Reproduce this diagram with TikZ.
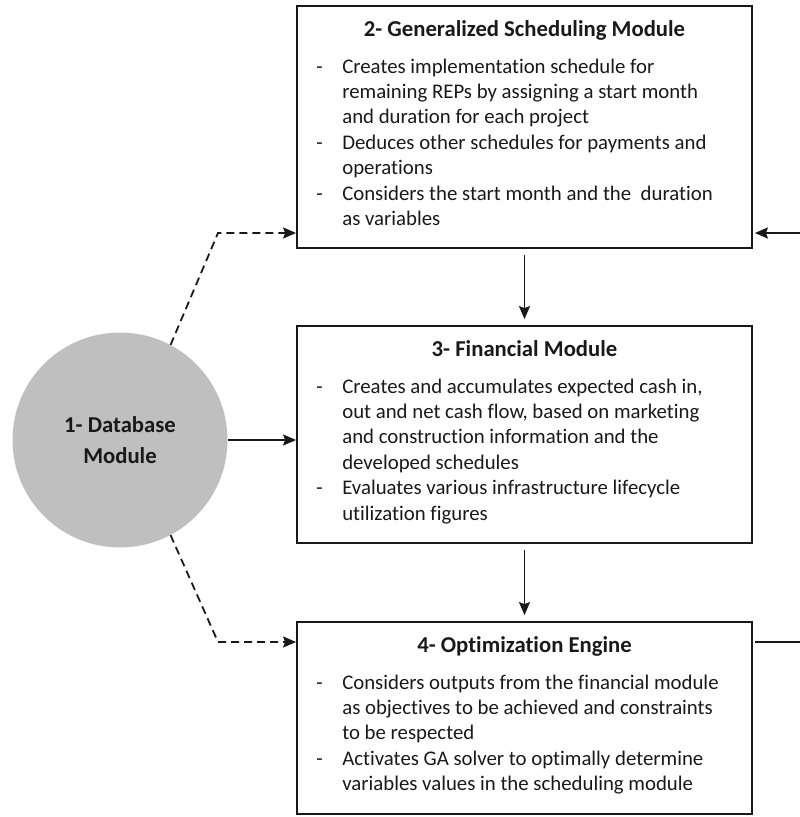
\documentclass[tikz,border=0pt]{standalone}
\usepackage{fontspec}
\setmainfont{Carlito}[Ligatures=NoCommon]
\usepackage{tikz}
\usetikzlibrary{arrows.meta,positioning,calc}
\definecolor{dbgray}{RGB}{191,191,191}
\definecolor{inkdark}{RGB}{25,25,25}

\tikzset{
  modbox/.style={draw=inkdark,line width=1.8pt,minimum width=455pt,inner sep=0pt},
  ttl/.style={font=\bfseries\fontsize{22.7}{27}\selectfont,text=inkdark,anchor=base,inner sep=0pt},
  body/.style={font=\fontsize{20.8}{25.4}\selectfont,text=inkdark,anchor=base west,inner sep=0pt},
  flow/.style={line width=1.8pt,draw=inkdark,-{Stealth[length=13pt,width=11pt,inset=2pt]}},
  dflow/.style={flow,dash pattern=on 8pt off 5pt},
}

\begin{document}
\begin{tikzpicture}[x=1pt,y=-1pt]
  \useasboundingbox (0,0) rectangle (800,817);
  % database module (grey disc)
  \node[circle,fill=dbgray,minimum size=215pt,inner sep=0pt,align=center,
        font=\bfseries\fontsize{22.7}{31}\selectfont,text=inkdark] (db) at (120,440)
        {1- Database\\Module};
  % the three module boxes
  \node[modbox,minimum height=242pt] (sched) at (524.5,127) {};
  \node[modbox,minimum height=217pt] (fin) at (524.5,434.5) {};
  \node[modbox,minimum height=192pt] (opt) at (524.5,718) {};
  % titles
  \node[ttl] (schedttl) at ([yshift=-31pt]sched.north) {2- Generalized Scheduling Module};
  \node[ttl] (finttl) at ([yshift=-31pt]fin.north) {3- Financial Module};
  \node[ttl] (optttl) at ([yshift=-31pt]opt.north) {4- Optimization Engine};
  % bullet lists
  \node[body] (schedtxt) at ([xshift=20pt,yshift=-68pt]sched.north west) {%
    \begin{tabular}[t]{@{}p{26pt}@{}l@{}}
    - & Creates implementation schedule for\\
      & remaining REPs by assigning a start month\\
      & and duration for each project\\
    - & Deduces other schedules for payments and\\
      & operations\\
    - & Considers the start month and the\ \ duration\\
      & as variables
    \end{tabular}};
  \node[body] (fintxt) at ([xshift=20pt,yshift=-68pt]fin.north west) {%
    \begin{tabular}[t]{@{}p{26pt}@{}l@{}}
    - & Creates and accumulates expected cash in,\\
      & out and net cash flow, based on marketing\\
      & and construction information and the\\
      & developed schedules\\
    - & Evaluates various infrastructure lifecycle\\
      & utilization figures
    \end{tabular}};
  \node[body] (opttxt) at ([xshift=20pt,yshift=-68pt]opt.north west) {%
    \begin{tabular}[t]{@{}p{26pt}@{}l@{}}
    - & Considers outputs from the financial module\\
      & as objectives to be achieved and constraints\\
      & to be respected\\
    - & Activates GA solver to optimally determine\\
      & variables values in the scheduling module
    \end{tabular}};
  % bends of the dashed links and the loop ends at the right edge
  \coordinate (kt) at (218,233);
  \coordinate (kb) at (218,642);
  \coordinate (fbin) at (800,233);
  \coordinate (fbout) at (800,642);
  % connectors
  \draw[dflow] (db.62) -- (kt) -- (kt -| sched.west);
  \draw[dflow] (db.-62) -- (kb) -- (kb -| opt.west);
  \draw[flow] (db.east) -- (db.east -| fin.west);
  \draw[flow,shorten <=6pt,shorten >=6pt] (sched.south) -- (fin.north);
  \draw[flow,shorten <=6pt,shorten >=6pt] (fin.south) -- (opt.north);
  \draw[line width=1.8pt,draw=inkdark,shorten <=2pt] (fbout -| opt.east) -- (fbout);
  \draw[flow,shorten >=2pt] (fbin) -- (fbin -| sched.east);
\end{tikzpicture}
\end{document}
